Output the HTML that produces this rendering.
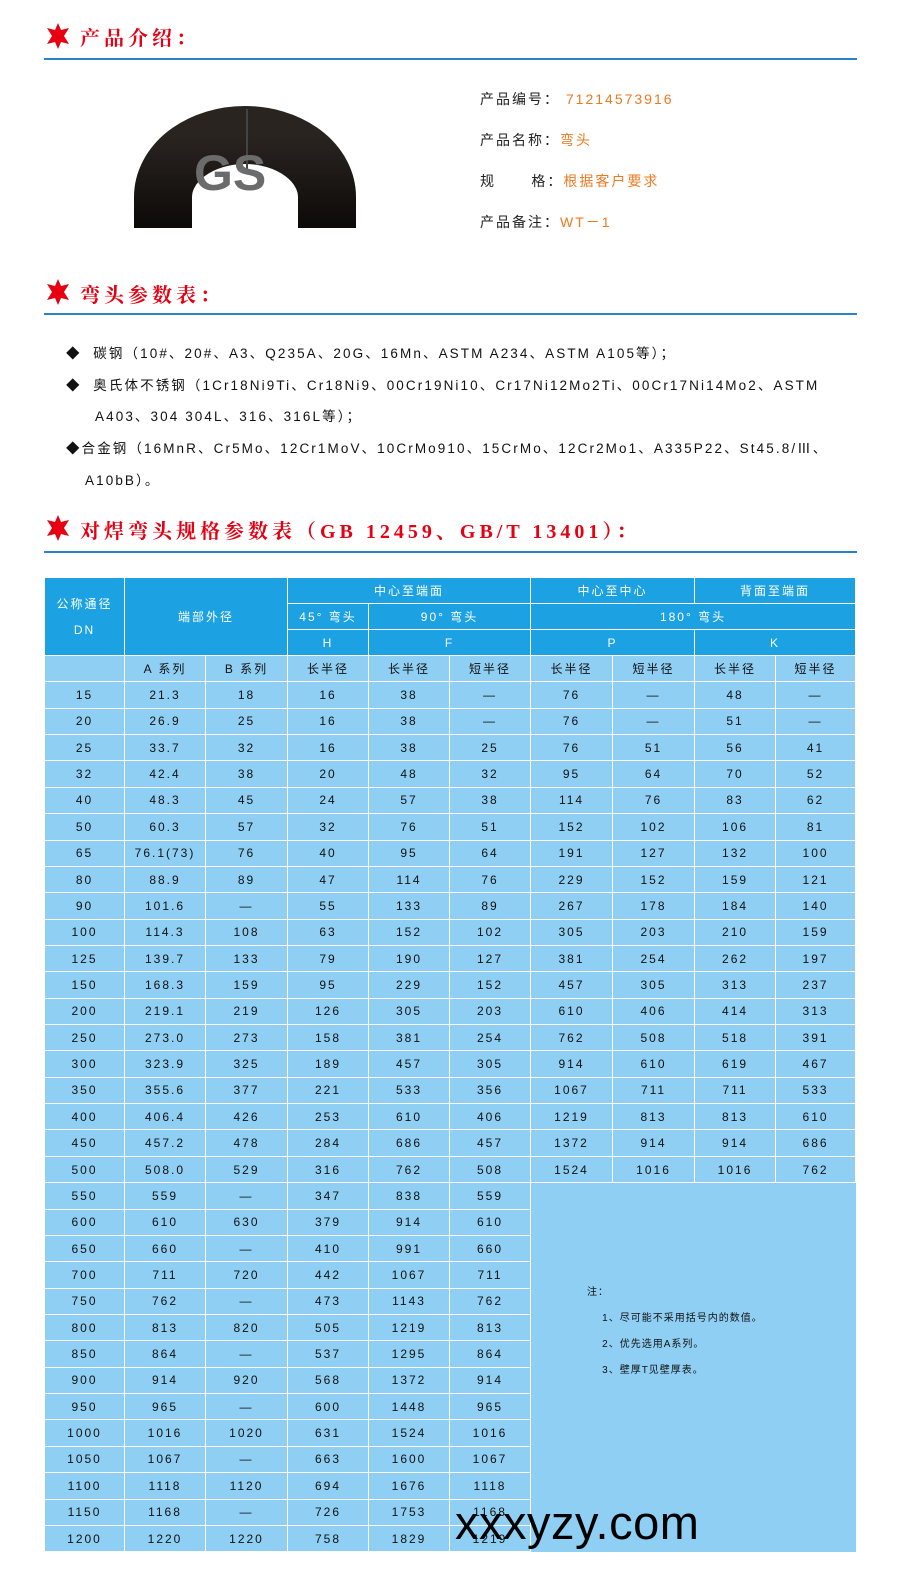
<!DOCTYPE html>
<html><head><meta charset="utf-8">
<style>
*{margin:0;padding:0;box-sizing:border-box}
body{width:909px;height:1573px;background:#fff;position:relative;overflow:hidden;font-family:"Liberation Sans","Noto Sans CJK SC",sans-serif}
.t{position:absolute;left:44px;color:#e60012;font-size:20px;font-weight:bold;letter-spacing:4px;font-family:"Liberation Serif","Noto Serif CJK SC",serif;white-space:nowrap}
.star{position:absolute;left:44px;width:28px;height:28px}
.hr{position:absolute;left:44px;width:813px;height:2px;background:#2a82c8}
.info{position:absolute;left:480px;font-size:14px;letter-spacing:2px;color:#222;white-space:nowrap}
.info span{color:#ee7a1f}
.b{position:absolute;font-size:13.5px;letter-spacing:2.1px;color:#111;white-space:nowrap}
table{position:absolute;left:44px;top:577px;width:811px;border-collapse:collapse;table-layout:fixed;font-size:12px;letter-spacing:2px;color:#111}
td{border:1.5px solid #fff;text-align:center;vertical-align:middle;padding:0;background:#8ecff3;height:26.36px;white-space:nowrap}
tr.h td{background:#1ca1e3;color:#fff;height:26px}
td.n{vertical-align:top;text-align:left;padding:97px 0 0 56px;font-size:10px;line-height:26px;letter-spacing:1px;border-right:none;border-bottom:none}
</style></head><body>

<svg class="star" style="top:22px" viewBox="0 0 28 28"><polygon fill="#e60012" points="14,1 17,8 25,6 20,14 25,22 17,20 14,27 11,20 3,22 8,14 3,6 11,8"/></svg>
<div class="t" style="left:80px;top:22px">产品介绍：</div>
<div class="hr" style="top:58px"></div>

<svg style="position:absolute;left:120px;top:95px" width="260" height="145" viewBox="0 0 260 145">
<defs><linearGradient id="g" x1="0" y1="0" x2="0" y2="1"><stop offset="0" stop-color="#2a2420"/><stop offset="1" stop-color="#0c0a09"/></linearGradient></defs>
<path d="M43,133 L43,102 A82,62 0 0 1 207,102 L207,133" fill="none" stroke="url(#g)" stroke-width="58"/>
<line x1="127" y1="14" x2="127" y2="74" stroke="#444" stroke-width="2"/>
<text x="74" y="95" font-size="50" font-weight="bold" fill="#6b6b6b" font-family="Liberation Sans,sans-serif">GS</text>
</svg>

<div class="info" style="top:89px">产品编号：<span> 71214573916</span></div>
<div class="info" style="top:130px">产品名称：<span>弯头</span></div>
<div class="info" style="top:171px">规&nbsp;&nbsp;&nbsp;&nbsp;&nbsp;&nbsp;格：<span>根据客户要求</span></div>
<div class="info" style="top:212px">产品备注：<span>WT－1</span></div>

<svg class="star" style="top:278px" viewBox="0 0 28 28"><polygon fill="#e60012" points="14,1 17,8 25,6 20,14 25,22 17,20 14,27 11,20 3,22 8,14 3,6 11,8"/></svg>
<div class="t" style="left:80px;top:279px">弯头参数表：</div>
<div class="hr" style="top:313px"></div>

<div class="b" style="left:66px;top:342px">◆&nbsp; 碳钢（10#、20#、A3、Q235A、20G、16Mn、ASTM A234、ASTM A105等）；</div>
<div class="b" style="left:66px;top:374px">◆&nbsp; 奥氏体不锈钢（1Cr18Ni9Ti、Cr18Ni9、00Cr19Ni10、Cr17Ni12Mo2Ti、00Cr17Ni14Mo2、ASTM</div>
<div class="b" style="left:95px;top:405px">A403、304 304L、316、316L等）；</div>
<div class="b" style="left:66px;top:437px">◆合金钢（16MnR、Cr5Mo、12Cr1MoV、10CrMo910、15CrMo、12Cr2Mo1、A335P22、St45.8/Ⅲ、</div>
<div class="b" style="left:85px;top:469px">A10bB）。</div>

<svg class="star" style="top:514px" viewBox="0 0 28 28"><polygon fill="#e60012" points="14,1 17,8 25,6 20,14 25,22 17,20 14,27 11,20 3,22 8,14 3,6 11,8"/></svg>
<div class="t" style="left:80px;top:515px">对焊弯头规格参数表（GB 12459、GB/T 13401）：</div>
<div class="hr" style="top:551px"></div>

<table>
<colgroup><col style="width:80px"><col style="width:81px"><col style="width:82px"><col style="width:81px"><col style="width:81px"><col style="width:81px"><col style="width:82px"><col style="width:82px"><col style="width:81px"><col style="width:80px"></colgroup>
<tr class="h"><td rowspan="3" style="line-height:26px">公称通径<br>DN</td><td rowspan="3" colspan="2">端部外径</td><td colspan="3">中心至端面</td><td colspan="2">中心至中心</td><td colspan="2">背面至端面</td></tr>
<tr class="h"><td>45° 弯头</td><td colspan="2">90° 弯头</td><td colspan="4">180° 弯头</td></tr>
<tr class="h"><td>H</td><td colspan="2">F</td><td colspan="2">P</td><td colspan="2">K</td></tr>
<tr><td></td><td>A 系列</td><td>B 系列</td><td>长半径</td><td>长半径</td><td>短半径</td><td>长半径</td><td>短半径</td><td>长半径</td><td>短半径</td></tr>
<tr><td>15</td><td>21.3</td><td>18</td><td>16</td><td>38</td><td>—</td><td>76</td><td>—</td><td>48</td><td>—</td></tr>
<tr><td>20</td><td>26.9</td><td>25</td><td>16</td><td>38</td><td>—</td><td>76</td><td>—</td><td>51</td><td>—</td></tr>
<tr><td>25</td><td>33.7</td><td>32</td><td>16</td><td>38</td><td>25</td><td>76</td><td>51</td><td>56</td><td>41</td></tr>
<tr><td>32</td><td>42.4</td><td>38</td><td>20</td><td>48</td><td>32</td><td>95</td><td>64</td><td>70</td><td>52</td></tr>
<tr><td>40</td><td>48.3</td><td>45</td><td>24</td><td>57</td><td>38</td><td>114</td><td>76</td><td>83</td><td>62</td></tr>
<tr><td>50</td><td>60.3</td><td>57</td><td>32</td><td>76</td><td>51</td><td>152</td><td>102</td><td>106</td><td>81</td></tr>
<tr><td>65</td><td>76.1(73)</td><td>76</td><td>40</td><td>95</td><td>64</td><td>191</td><td>127</td><td>132</td><td>100</td></tr>
<tr><td>80</td><td>88.9</td><td>89</td><td>47</td><td>114</td><td>76</td><td>229</td><td>152</td><td>159</td><td>121</td></tr>
<tr><td>90</td><td>101.6</td><td>—</td><td>55</td><td>133</td><td>89</td><td>267</td><td>178</td><td>184</td><td>140</td></tr>
<tr><td>100</td><td>114.3</td><td>108</td><td>63</td><td>152</td><td>102</td><td>305</td><td>203</td><td>210</td><td>159</td></tr>
<tr><td>125</td><td>139.7</td><td>133</td><td>79</td><td>190</td><td>127</td><td>381</td><td>254</td><td>262</td><td>197</td></tr>
<tr><td>150</td><td>168.3</td><td>159</td><td>95</td><td>229</td><td>152</td><td>457</td><td>305</td><td>313</td><td>237</td></tr>
<tr><td>200</td><td>219.1</td><td>219</td><td>126</td><td>305</td><td>203</td><td>610</td><td>406</td><td>414</td><td>313</td></tr>
<tr><td>250</td><td>273.0</td><td>273</td><td>158</td><td>381</td><td>254</td><td>762</td><td>508</td><td>518</td><td>391</td></tr>
<tr><td>300</td><td>323.9</td><td>325</td><td>189</td><td>457</td><td>305</td><td>914</td><td>610</td><td>619</td><td>467</td></tr>
<tr><td>350</td><td>355.6</td><td>377</td><td>221</td><td>533</td><td>356</td><td>1067</td><td>711</td><td>711</td><td>533</td></tr>
<tr><td>400</td><td>406.4</td><td>426</td><td>253</td><td>610</td><td>406</td><td>1219</td><td>813</td><td>813</td><td>610</td></tr>
<tr><td>450</td><td>457.2</td><td>478</td><td>284</td><td>686</td><td>457</td><td>1372</td><td>914</td><td>914</td><td>686</td></tr>
<tr><td>500</td><td>508.0</td><td>529</td><td>316</td><td>762</td><td>508</td><td>1524</td><td>1016</td><td>1016</td><td>762</td></tr>
<tr><td>550</td><td>559</td><td>—</td><td>347</td><td>838</td><td>559</td><td colspan="4" rowspan="14" class="n">注：<br>&nbsp;&nbsp;&nbsp;&nbsp;1、尽可能不采用括号内的数值。<br>&nbsp;&nbsp;&nbsp;&nbsp;2、优先选用A系列。<br>&nbsp;&nbsp;&nbsp;&nbsp;3、壁厚T见壁厚表。</td></tr>
<tr><td>600</td><td>610</td><td>630</td><td>379</td><td>914</td><td>610</td></tr>
<tr><td>650</td><td>660</td><td>—</td><td>410</td><td>991</td><td>660</td></tr>
<tr><td>700</td><td>711</td><td>720</td><td>442</td><td>1067</td><td>711</td></tr>
<tr><td>750</td><td>762</td><td>—</td><td>473</td><td>1143</td><td>762</td></tr>
<tr><td>800</td><td>813</td><td>820</td><td>505</td><td>1219</td><td>813</td></tr>
<tr><td>850</td><td>864</td><td>—</td><td>537</td><td>1295</td><td>864</td></tr>
<tr><td>900</td><td>914</td><td>920</td><td>568</td><td>1372</td><td>914</td></tr>
<tr><td>950</td><td>965</td><td>—</td><td>600</td><td>1448</td><td>965</td></tr>
<tr><td>1000</td><td>1016</td><td>1020</td><td>631</td><td>1524</td><td>1016</td></tr>
<tr><td>1050</td><td>1067</td><td>—</td><td>663</td><td>1600</td><td>1067</td></tr>
<tr><td>1100</td><td>1118</td><td>1120</td><td>694</td><td>1676</td><td>1118</td></tr>
<tr><td>1150</td><td>1168</td><td>—</td><td>726</td><td>1753</td><td>1168</td></tr>
<tr><td>1200</td><td>1220</td><td>1220</td><td>758</td><td>1829</td><td>1219</td></tr>
</table>

<div style="position:absolute;left:455px;top:1499px;font-size:47px;letter-spacing:0.5px;color:#000;font-family:'Liberation Sans',sans-serif;line-height:1">xxxyzy.com</div>
</body></html>
